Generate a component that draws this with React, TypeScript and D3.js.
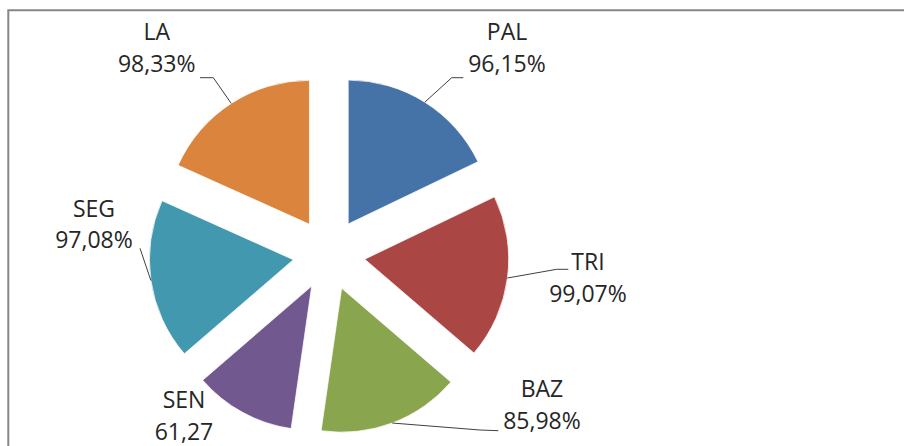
import React from "react";
import * as d3 from "d3";

// ---- data ----
const categories = ["PAL", "TRI", "BAZ", "SEN", "SEG", "LA"];
const values = [96.15, 99.07, 85.98, 61.27, 97.08, 98.33];
const valueLabels = ["96,15%", "99,07%", "85,98%", "61,27", "97,08%", "98,33%"];
const colors = ["#4572A7", "#AA4643", "#89A54E", "#71588F", "#4198AF", "#DB843D"];

// ---- layout (page coordinates) ----
const W = 904;
const H = 446;
const CX = 329;
const CY = 254.5;
const R = 144;
const EXPLODE = 36;
const LINE_GAP = 31.7;

// label anchor: centre x, first baseline y; leader: elbow + end points (null = no leader)
const labelLayout: { x: number; y: number; leader: [number, number][] | null }[] = [
  { x: 507, y: 40, leader: [[451.7, 77.7], [463.3, 77.7]] },
  { x: 588, y: 270, leader: [[556.7, 269.3], [568.3, 269.3]] },
  { x: 542, y: 397, leader: [[480, 430], [498.3, 430.7]] },
  { x: 184, y: 408, leader: null },
  { x: 94, y: 216.5, leader: [[140, 248.3]] },
  { x: 156.7, y: 40, leader: [[213.3, 77.7], [200, 77.7]] },
];

export default function App() {
  const pie = d3
    .pie<number>()
    .sort(null)
    .startAngle(0)
    .endAngle(2 * Math.PI)
    .value((d) => d);
  const arcs = pie(values);
  const arc = d3.arc<d3.PieArcDatum<number>>().innerRadius(0).outerRadius(R);

  return (
    <svg
      width={W}
      height={H}
      style={{ position: "absolute", left: 0, top: 0, background: "#fff" }}
      fontFamily="'Open Sans', 'Noto Sans', sans-serif"
    >
      <rect x={0} y={0} width={W} height={H} fill="#fff" />
      {/* chart frame (clipped at right / bottom) */}
      <path d={`M8.3,${H + 5} L8.3,10.3 L${W + 5},10.3`} fill="none" stroke="#878787" strokeWidth={2} />
      {arcs.map((a, i) => {
        const mid = (a.startAngle + a.endAngle) / 2;
        const ox = CX + EXPLODE * Math.sin(mid);
        const oy = CY - EXPLODE * Math.cos(mid);
        return (
          <g key={categories[i]} transform={`translate(${ox},${oy})`}>
            <path d={arc(a) || ""} fill={colors[i]} stroke="#fff" strokeWidth={0.75} />
          </g>
        );
      })}
      {arcs.map((a, i) => {
        const lay = labelLayout[i];
        if (!lay.leader) return null;
        const mid = (a.startAngle + a.endAngle) / 2;
        const sx = CX + (EXPLODE + R) * Math.sin(mid);
        const sy = CY - (EXPLODE + R) * Math.cos(mid);
        const pts: [number, number][] = [[sx, sy], ...lay.leader];
        return (
          <path
            key={"l" + i}
            d={d3.line()(pts) || ""}
            fill="none"
            stroke="#404040"
            strokeWidth={1}
          />
        );
      })}
      {categories.map((c, i) => {
        const lay = labelLayout[i];
        return (
          <text key={"t" + c} textAnchor="middle" fontSize={23} fill="#262626">
            <tspan x={lay.x} y={lay.y}>
              {c}
            </tspan>
            <tspan x={lay.x} y={lay.y + LINE_GAP}>
              {valueLabels[i]}
            </tspan>
          </text>
        );
      })}
    </svg>
  );
}
